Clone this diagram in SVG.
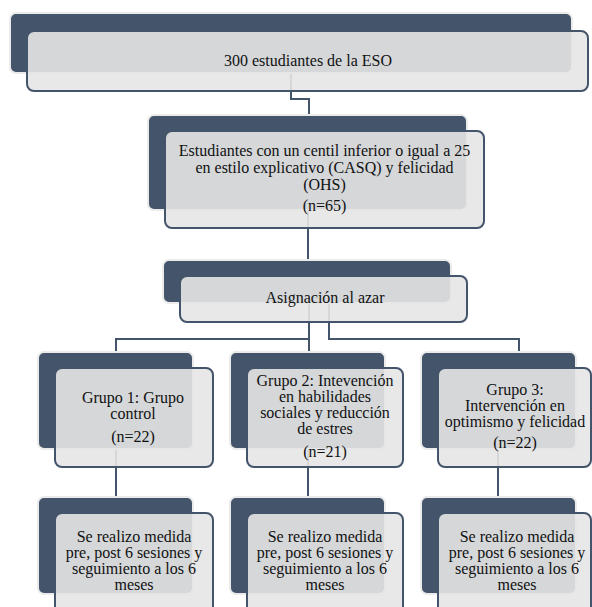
<svg xmlns="http://www.w3.org/2000/svg" width="592" height="607" viewBox="0 0 592 607">
<style>
.bk{fill:#44546a;stroke:#ebebeb;stroke-width:2}
.fr{fill:#e6e6e6;fill-opacity:0.9;stroke:#44546a;stroke-width:2}
.cn{fill:none;stroke:#44546a;stroke-width:2}
.t{font-size:16px;fill:#111;text-anchor:middle}
</style>
<rect width="592" height="607" fill="#fff"/>
<g id="connectors">
<path class="cn" d="M291,73 V99 H309 V115"/>
<path class="cn" d="M308,210 V260"/>
<path class="cn" d="M309,303 V352"/>
<path class="cn" d="M309,339 H116 V352"/>
<path class="cn" d="M329,303 V339 H519 V352"/>
<path class="cn" d="M116,449 V497"/>
<path class="cn" d="M308,449 V497"/>
<path class="cn" d="M498,449 V497"/>
</g>
<g font-family="Liberation Serif, Tinos, Times New Roman, DejaVu Serif, serif">
<g id="n1">
<rect class="bk" x="10" y="13" width="562" height="60" rx="6"/>
<rect class="fr" x="27" y="31" width="561" height="60" rx="7"/>
<text class="t" x="308" y="66">300 estudiantes de la ESO</text>
</g>
<g id="n2">
<rect class="bk" x="148" y="115" width="319" height="95" rx="6"/>
<rect class="fr" x="165" y="131" width="319" height="97" rx="7"/>
<text class="t" x="324.5" y="156">Estudiantes con un centil inferior o igual a 25</text>
<text class="t" x="324.5" y="173">en estilo explicativo (CASQ) y felicidad</text>
<text class="t" x="324.5" y="190">(OHS)</text>
<text class="t" x="324.5" y="211">(n=65)</text>
</g>
<g id="n3">
<rect class="bk" x="163" y="260" width="288" height="43" rx="6"/>
<rect class="fr" x="180" y="276" width="287" height="46" rx="7"/>
<text class="t" x="325" y="303">Asignación al azar</text>
</g>
<g id="g1">
<rect class="bk" x="38" y="352" width="155" height="97" rx="6"/>
<rect class="fr" x="55" y="368" width="158" height="99" rx="7"/>
<text class="t" x="133" y="403">Grupo 1: Grupo</text>
<text class="t" x="133" y="419">control</text>
<text class="t" x="133" y="442">(n=22)</text>
</g>
<g id="g2">
<rect class="bk" x="230" y="352" width="155" height="97" rx="6"/>
<rect class="fr" x="247" y="368" width="156" height="99" rx="7"/>
<text class="t" x="325" y="386">Grupo 2: Intevención</text>
<text class="t" x="325" y="402">en habilidades</text>
<text class="t" x="325" y="418">sociales y reducción</text>
<text class="t" x="325" y="434">de estres</text>
<text class="t" x="325" y="457">(n=21)</text>
</g>
<g id="g3">
<rect class="bk" x="421" y="352" width="155" height="97" rx="6"/>
<rect class="fr" x="438" y="368" width="153" height="99" rx="7"/>
<text class="t" x="515" y="395">Grupo 3:</text>
<text class="t" x="515" y="411">Intervención en</text>
<text class="t" x="515" y="427">optimismo y felicidad</text>
<text class="t" x="515" y="448">(n=22)</text>
</g>
<g id="l1">
<rect class="bk" x="38" y="497" width="155" height="97" rx="6"/>
<rect class="fr" x="55" y="513" width="158" height="101" rx="7"/>
<text class="t" x="134" y="542">Se realizo medida</text>
<text class="t" x="134" y="558">pre, post 6 sesiones y</text>
<text class="t" x="134" y="574">seguimiento a los 6</text>
<text class="t" x="134" y="590">meses</text>
</g>
<g id="l2">
<rect class="bk" x="230" y="497" width="155" height="97" rx="6"/>
<rect class="fr" x="247" y="513" width="156" height="101" rx="7"/>
<text class="t" x="325" y="542">Se realizo medida</text>
<text class="t" x="325" y="558">pre, post 6 sesiones y</text>
<text class="t" x="325" y="574">seguimiento a los 6</text>
<text class="t" x="325" y="590">meses</text>
</g>
<g id="l3">
<rect class="bk" x="421" y="497" width="155" height="97" rx="6"/>
<rect class="fr" x="438" y="513" width="153" height="101" rx="7"/>
<text class="t" x="517" y="542">Se realizo medida</text>
<text class="t" x="517" y="558">pre, post 6 sesiones y</text>
<text class="t" x="517" y="574">seguimiento a los 6</text>
<text class="t" x="517" y="590">meses</text>
</g>
</g>
</svg>
